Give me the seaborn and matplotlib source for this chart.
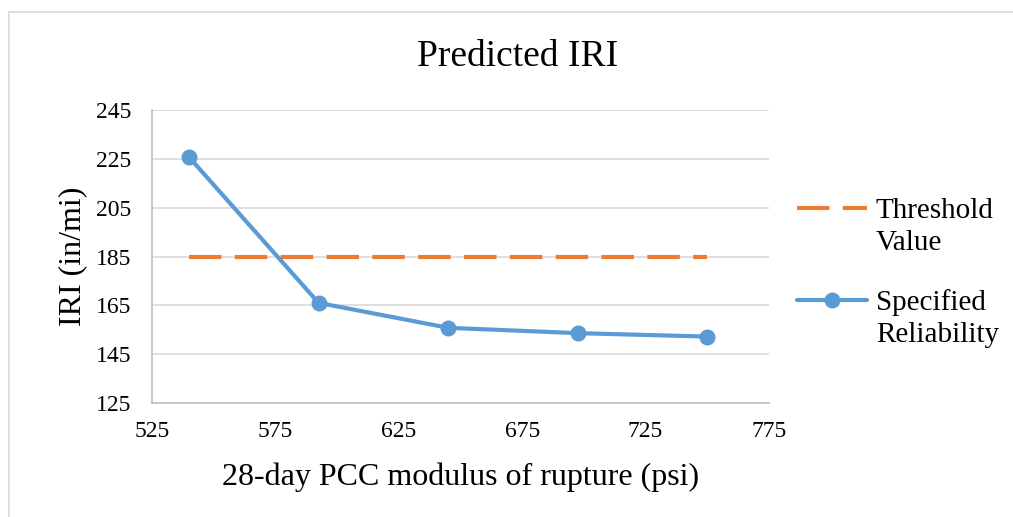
import matplotlib
matplotlib.use("Agg")
import matplotlib.pyplot as plt
import seaborn as sns
import pandas as pd
from matplotlib.patches import Rectangle
from matplotlib.lines import Line2D

# Data
modulus = [540, 592.5, 645, 697.5, 750]
reliability_iri = [225.7, 166.0, 155.8, 153.6, 152.2]
threshold_iri = [185, 185, 185, 185, 185]
series_names = ["Threshold Value", "Specified Reliability"]
x_ticks = [525, 575, 625, 675, 725, 775]
y_ticks = [125, 145, 165, 185, 205, 225, 245]

df = pd.DataFrame({
    "x": modulus * 2,
    "IRI": threshold_iri + reliability_iri,
    "series": [series_names[0]] * len(modulus) + [series_names[1]] * len(modulus),
})

sns.set_theme(style="white")
plt.rcParams["font.family"] = ["Liberation Serif", "DejaVu Serif"]
plt.rcParams["text.color"] = "black"
plt.rcParams["axes.labelcolor"] = "black"

fig = plt.figure(figsize=(10.13, 5.17), dpi=100)
ax = fig.add_axes([152 / 1013, 1 - 403 / 517, (769 - 152) / 1013, (403 - 110) / 517])

orange = "#ED7D31"
blue = "#5B9BD5"

sns.lineplot(data=df[df.series == series_names[0]], x="x", y="IRI", ax=ax,
             color=orange, linewidth=3, legend=False)
thr_line = ax.lines[-1]
thr_line.set_dashes((7.8, 3.2))
thr_line.set_dash_capstyle("butt")
sns.lineplot(data=df[df.series == series_names[1]], x="x", y="IRI", ax=ax,
             color=blue, linewidth=3, marker="o", markersize=11.5,
             markeredgewidth=0, legend=False)

ax.set_xlim(525, 775)
ax.set_ylim(125, 245)
ax.set_xticks(x_ticks)
ax.set_yticks(y_ticks)
ax.tick_params(axis="x", labelsize=17, length=0, pad=13, colors="black")
ax.tick_params(axis="y", labelsize=17, length=0, pad=15, colors="black")
ax.yaxis.grid(True, color="#D9D9D9", linewidth=1.2)
ax.xaxis.grid(False)
for s in ["top", "right"]:
    ax.spines[s].set_visible(False)
for s in ["left", "bottom"]:
    ax.spines[s].set_color("#BFBFBF")
    ax.spines[s].set_linewidth(1.2)

ax.set_xlabel("28-day PCC modulus of rupture (psi)", fontsize=23, labelpad=15)
ax.set_ylabel("IRI (in/mi)", fontsize=23, labelpad=6)
fig.text(518 / 1013, 1 - 57 / 517, "Predicted IRI", fontsize=27, ha="center", va="center")

# Legend (Excel-style: handle aligned with the first line of the label)
thr_handle = Line2D([], [], color=orange, linewidth=3, dashes=(7.8, 3.2))
rel_handle = Line2D([], [], color=blue, linewidth=3, marker="o", markersize=11.5,
                    markeredgewidth=0)
blank = Line2D([], [], color="none")
leg_kw = dict(loc="upper left", frameon=False, fontsize=21, handlelength=2.4,
              labelspacing=0.19, handletextpad=0.3, borderaxespad=0, borderpad=0)
leg1 = ax.legend([thr_handle, blank], ["Threshold", "Value"],
                 bbox_to_anchor=(797 / 1013, 1 - 198 / 517),
                 bbox_transform=fig.transFigure, **leg_kw)
ax.add_artist(leg1)
leg2 = ax.legend([rel_handle, blank], ["Specified", "Reliability"],
                 bbox_to_anchor=(797 / 1013, 1 - 289 / 517),
                 bbox_transform=fig.transFigure, **leg_kw)

fig.patches.append(Rectangle((9 / 1013, -0.1), 1.2, 1 - 12 / 517 + 0.1,
                             transform=fig.transFigure, fill=False,
                             edgecolor="#D9D9D9", linewidth=1.2))

fig.savefig("out.png", dpi=100)
